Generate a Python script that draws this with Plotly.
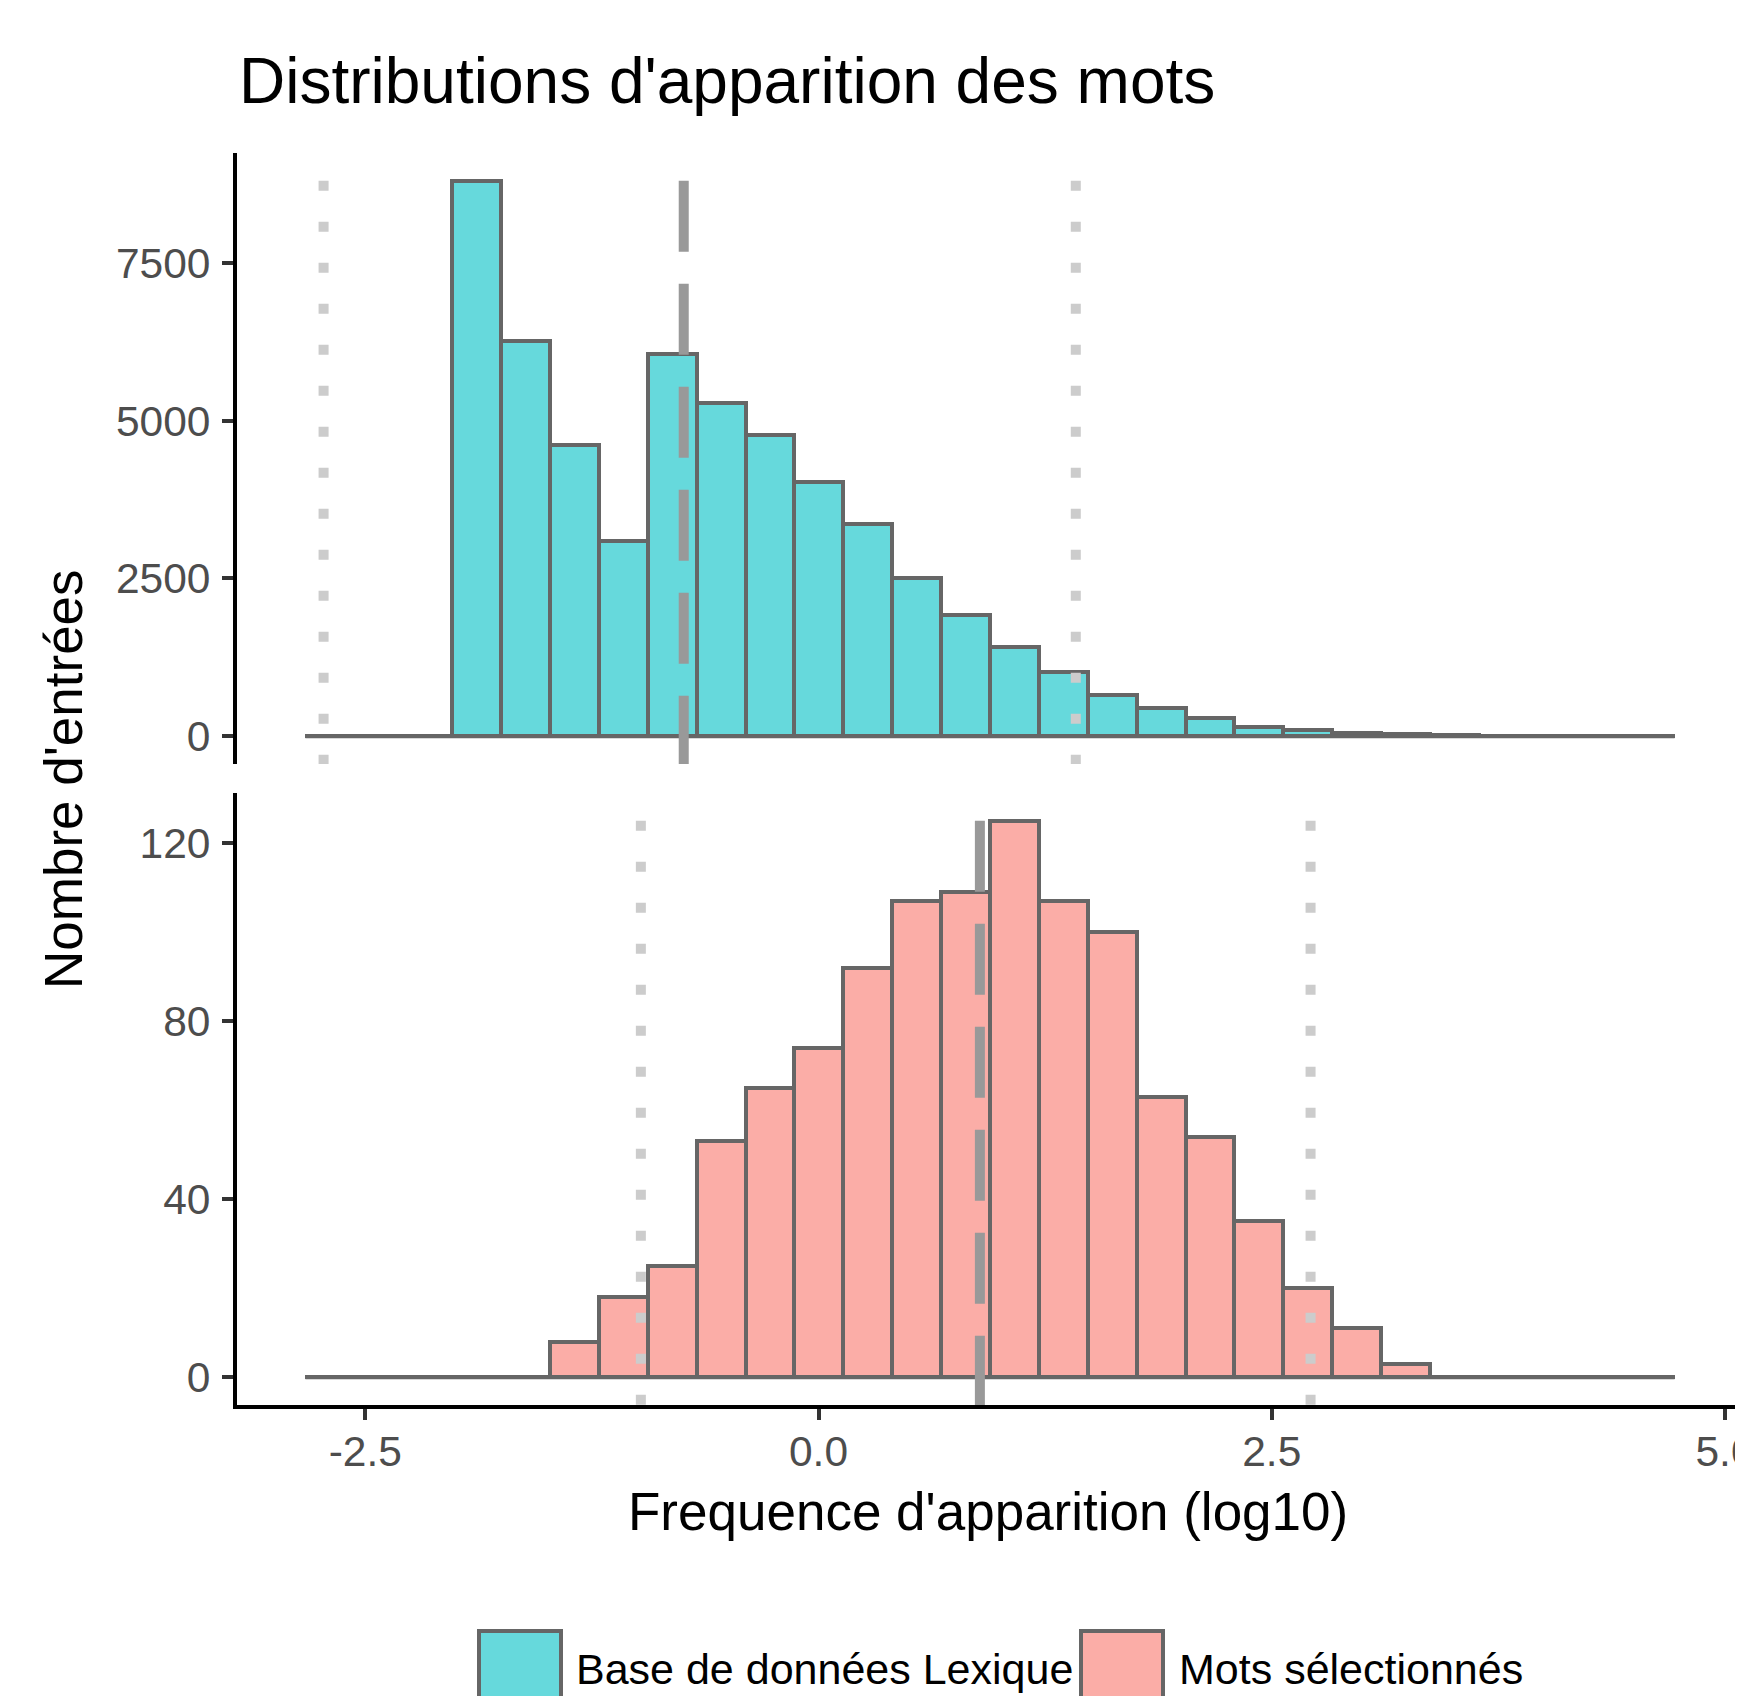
import plotly.graph_objects as go

# ---------------- data ----------------
bin_start = -2.83          # left edge of first bin (log10 frequency)
bin_width = 0.2697         # common bin width
lexique_counts = [0, 0, 0, 8800, 6260, 4620, 3090, 6050, 5280, 4780, 4020, 3360,
                  2500, 1920, 1420, 1010, 650, 455, 285, 150, 95, 55, 30, 18, 10, 6, 3, 2]
selected_counts = [0, 0, 0, 0, 0, 8, 18, 25, 53, 65, 74, 92, 107, 109, 125, 107,
                   100, 63, 54, 35, 20, 11, 3, 0, 0, 0, 0, 0]
# reference lines: [lower bound, mean, upper bound]
lexique_lines = [-2.73, -0.7435, 1.419]
selected_lines = [-0.98, 0.89, 2.714]
series_names = ["Base de données Lexique", "Mots sélectionnés"]
x_tickvals = [-2.5, 0.0, 2.5, 5.0]
x_ticktext = ["-2.5", "0.0", "2.5", "5.0"]
top_tickvals = [0, 2500, 5000, 7500]
bottom_tickvals = [0, 40, 80, 120]

# ---------------- styling ----------------
FONT = "Liberation Sans, Arial, Helvetica, sans-serif"
CYAN = "#66D9DC"
PINK = "#FBADA7"
OUTLINE = "#666666"
OFF = 8                      # default page body margin
PAGE_W, PAGE_H = 1743, 1696
W, H = PAGE_W - OFF, PAGE_H - OFF
PLOT_L, PLOT_T, PLOT_B = 237, 153, 1405     # page pixels
ML = PLOT_L - OFF
MT = PLOT_T - OFF
MB = H - (PLOT_B - OFF)
MR = 0
plot_h = H - MT - MB
plot_w = W - ML - MR


def py(px):  # page pixel y -> paper y
    return (PLOT_B - px) / plot_h


def pxx(px):  # page pixel x -> paper x
    return (px - PLOT_L) / plot_w


n = len(lexique_counts)
centers = [bin_start + (i + 0.5) * bin_width for i in range(n)]
edges_lo = bin_start
edges_hi = bin_start + n * bin_width

top_max = max(lexique_counts)
bot_max = max(selected_counts)
top_range = [-0.05 * top_max, 1.05 * top_max]
bot_range = [-0.05 * bot_max, 1.05 * bot_max]
span = edges_hi - edges_lo
x_range = [edges_lo - 0.05 * span, edges_hi + 0.05 * span]

fig = go.Figure()

# baselines (zero-count bins drawn as outline)
fig.add_trace(go.Scatter(x=[edges_lo, edges_hi], y=[0, 0], mode="lines",
                         line=dict(color=OUTLINE, width=4), xaxis="x", yaxis="y",
                         showlegend=False, hoverinfo="skip"))
fig.add_trace(go.Scatter(x=[edges_lo, edges_hi], y=[0, 0], mode="lines",
                         line=dict(color=OUTLINE, width=4), xaxis="x2", yaxis="y2",
                         showlegend=False, hoverinfo="skip"))

fig.add_trace(go.Bar(x=centers, y=lexique_counts, width=bin_width, name=series_names[0],
                     marker=dict(color=CYAN, line=dict(color=OUTLINE, width=4)),
                     xaxis="x", yaxis="y", showlegend=False))
fig.add_trace(go.Bar(x=centers, y=selected_counts, width=bin_width, name=series_names[1],
                     marker=dict(color=PINK, line=dict(color=OUTLINE, width=4)),
                     xaxis="x2", yaxis="y2", showlegend=False))

shapes = []
for vals, yref, yr, ymax in [(lexique_lines, "y", top_range, top_max),
                             (selected_lines, "y2", bot_range, bot_max)]:
    for j, v in enumerate(vals):
        if j == 1:
            ln = dict(color="#999999", width=10, dash="71px,32px")
        else:
            ln = dict(color="#CCCCCC", width=10, dash="10px,31px")
        shapes.append(dict(type="line", xref="x" if yref == "y" else "x2", yref=yref,
                           x0=v, x1=v, y0=ymax, y1=yr[0], line=ln, layer="above"))

# custom legend keys
annotations = []
key_specs = [(479, 561, CYAN, 574, series_names[0]), (1081, 1163, PINK, 1177, series_names[1])]
for x0, x1, col, tx, label in key_specs:
    shapes.append(dict(type="rect", xref="paper", yref="paper",
                       x0=pxx(x0), x1=pxx(x1), y0=py(1631), y1=py(1709),
                       fillcolor=col, line=dict(color=OUTLINE, width=4), layer="above"))
    annotations.append(dict(text=label, xref="paper", yref="paper", x=pxx(tx), y=py(1669),
                            xanchor="left", yanchor="middle", showarrow=False,
                            font=dict(family=FONT, size=43, color="black")))

annotations.append(dict(text="Frequence d'apparition (log10)", xref="paper", yref="paper",
                        x=pxx(988), y=py(1511), xanchor="center", yanchor="middle",
                        showarrow=False, font=dict(family=FONT, size=53, color="black")))
annotations.append(dict(text="Nombre d'entrées", xref="paper", yref="paper",
                        x=pxx(63), y=py(779), xanchor="center", yanchor="middle",
                        textangle=-90, showarrow=False,
                        font=dict(family=FONT, size=53, color="black")))

tickfont = dict(family=FONT, size=42.5, color="#4D4D4D")
common_y = dict(showgrid=False, zeroline=False, showline=True, linecolor="black", linewidth=4,
                ticks="outside", ticklen=11, tickwidth=4, tickcolor="#333333",
                tickfont=tickfont, tickmode="array", ticklabelstandoff=3, fixedrange=True)

fig.update_layout(
    width=W, height=H,
    margin=dict(l=ML, r=MR, t=MT, b=MB, autoexpand=False),
    paper_bgcolor="white", plot_bgcolor="white",
    barmode="overlay", bargap=0,
    showlegend=False,
    title=dict(text="Distributions d'apparition des mots", x=(239 - OFF) / W,
               xref="container", xanchor="left", yref="container", y=1 - (81 - OFF) / H,
               yanchor="middle", font=dict(family=FONT, size=64, color="black")),
    xaxis=dict(domain=[0, 1], range=x_range, anchor="y", showline=False, showgrid=False,
               zeroline=False, ticks="", showticklabels=False, fixedrange=True),
    yaxis=dict(domain=[py(764), 1], range=top_range, anchor="x", tickvals=top_tickvals,
               ticktext=[str(v) for v in top_tickvals], **common_y),
    xaxis2=dict(domain=[0, 1], range=x_range, anchor="y2", showline=True, linecolor="black",
                linewidth=4, showgrid=False, zeroline=False, ticks="outside", ticklen=11,
                tickwidth=4, tickcolor="#333333", tickfont=tickfont, tickmode="array",
                tickvals=x_tickvals, ticktext=x_ticktext, ticklabeloverflow="allow",
                ticklabelstandoff=-5, fixedrange=True),
    yaxis2=dict(domain=[0, py(793)], range=bot_range, anchor="x2", tickvals=bottom_tickvals,
                ticktext=[str(v) for v in bottom_tickvals], **common_y),
    shapes=shapes,
    annotations=annotations,
)

fig.write_html("out.html")
